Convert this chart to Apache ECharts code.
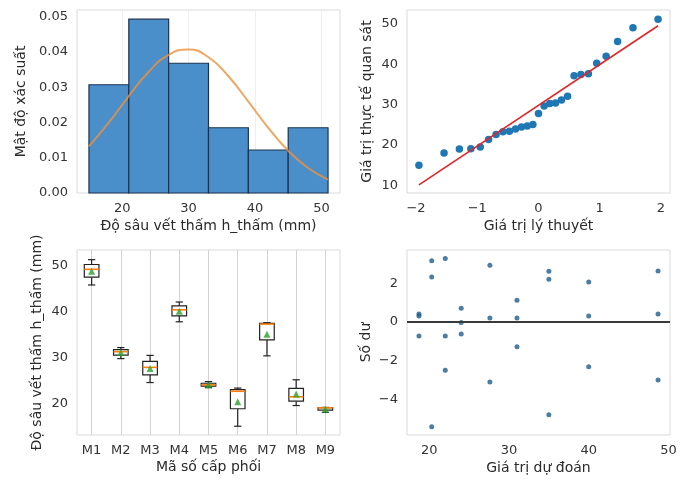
<!DOCTYPE html>
<html>
<head>
<meta charset="utf-8">
<script src="https://cdn.jsdelivr.net/npm/echarts@6/dist/echarts.min.js"></script>
<style>
html,body{margin:0;padding:0;background:#fff;}
#c{width:689px;height:479px;}
</style>
</head>
<body>
<div id="c"></div>
<script>
// ---- Histogram (panel 1) ----
const histEdges = [15, 21, 27, 33, 39, 45, 51];
const histDensity = [0.0307, 0.0493, 0.0368, 0.0185, 0.0122, 0.0185];
const curveX = [15, 18, 21, 24, 27, 30, 33, 36, 39, 42, 45, 48, 51];
const curveY = [0.0132, 0.0200, 0.0275, 0.0344, 0.0392, 0.0407, 0.0385, 0.0331, 0.0259, 0.0185, 0.0120, 0.0071, 0.0038];
const histXTicks = [20, 30, 40, 50];
const histYTicks = [0, 0.01, 0.02, 0.03, 0.04, 0.05];

// ---- Q-Q plot (panel 2) ----
const qqTheo = [-1.953, -1.543, -1.292, -1.105, -0.951, -0.815, -0.693, -0.581, -0.475, -0.375, -0.278, -0.184, -0.092, 0,
                0.092, 0.184, 0.278, 0.375, 0.475, 0.581, 0.693, 0.815, 0.951, 1.105, 1.292, 1.543, 1.953];
const qqObs = [15.0, 18.0, 19.0, 19.1, 19.5, 21.4, 22.6, 23.3, 23.4, 24.0, 24.5, 24.7, 25.1, 27.8,
               29.7, 30.3, 30.4, 31.2, 32.1, 37.2, 37.5, 37.7, 40.3, 42.0, 45.7, 49.1, 51.2];
const qqLineX = [-1.953, 1.953];
const qqLineY = [10.1, 49.6];
const qqXTicks = [-2, -1, 0, 1, 2];
const qqYTicks = [10, 20, 30, 40, 50];

// ---- Box plot (panel 3) ----
const mixes = ['M1', 'M2', 'M3', 'M4', 'M5', 'M6', 'M7', 'M8', 'M9'];
const boxMin = [45.7, 29.7, 24.5, 37.7, 23.4, 15.0, 30.3, 19.5, 18.0];
const boxQ1  = [47.4, 30.45, 26.15, 39.0, 23.7, 18.8, 33.75, 20.45, 18.5];
const boxMed = [49.1, 31.2, 27.8, 40.3, 24.0, 22.6, 37.2, 21.4, 19.0];
const boxQ3  = [50.15, 31.65, 29.1, 41.15, 24.35, 22.95, 37.35, 23.25, 19.05];
const boxMax = [51.2, 32.1, 30.4, 42.0, 24.7, 23.3, 37.5, 25.1, 19.1];
const boxMean = [48.67, 31.0, 27.57, 40.0, 24.03, 20.3, 35.0, 22.0, 18.7];
const boxYTicks = [20, 30, 40, 50];

// ---- Residuals (panel 4) ----
const residPred = [18.7, 18.7, 18.7, 20.3, 20.3, 20.3, 22.0, 22.0, 22.0, 24.0, 24.0, 24.0, 27.6, 27.6, 27.6,
                   31.0, 31.0, 31.0, 35.0, 35.0, 35.0, 40.0, 40.0, 40.0, 48.7, 48.7, 48.7];
const residVal  = [0.41, 0.31, -0.72, 3.16, 2.33, -5.41, 3.28, -0.72, -2.5, 0.71, -0.03, -0.62, 2.93, 0.21, -3.1,
                   1.12, 0.21, -1.28, 2.62, 2.21, -4.79, 2.07, 0.31, -2.31, 2.64, 0.41, -3.0];
const residXTicks = [20, 30, 40, 50];
const residYTicks = [-4, -2, 0, 2];

const FONT = 'DejaVu Sans';
const TXT = '#333333';
const minus = v => String(v).replace('-', '\u2212');

function valAxis(gridIndex, min, max, ticks, fmt, name, gap, opts) {
  return Object.assign({
    type: 'value', gridIndex, min, max,
    name, nameLocation: 'middle', nameGap: gap,
    nameTextStyle: {fontSize: 14, color: '#2a2a2a', fontFamily: FONT},
    axisLine: {show: false},
    axisTick: {show: false, customValues: ticks},
    axisLabel: {customValues: ticks, formatter: fmt, fontSize: 13, color: TXT, margin: 9, fontFamily: FONT},
    splitLine: {show: false}
  }, opts || {});
}

const gridBase = {show: true, borderColor: '#dadada', borderWidth: 1, backgroundColor: '#ffffff', containLabel: false};

const option = {
  animation: false,
  backgroundColor: '#ffffff',
  textStyle: {fontFamily: FONT},
  grid: [
    Object.assign({left: 77, top: 10, width: 263, height: 183}, gridBase),
    Object.assign({left: 407, top: 10, width: 263, height: 183}, gridBase),
    Object.assign({left: 77, top: 250, width: 263, height: 185}, gridBase),
    Object.assign({left: 407, top: 250, width: 263, height: 185}, gridBase)
  ],
  xAxis: [
    valAxis(0, 13.2, 52.8, histXTicks, v => String(v), 'Độ sâu vết thấm h_thấm (mm)', 26,
      {splitLine: {show: true, lineStyle: {color: '#efefef', width: 1}}}),
    valAxis(1, -2.148, 2.148, qqXTicks, v => minus(v), 'Giá trị lý thuyết', 26),
    valAxis(2, 0.5, 9.5, [1, 2, 3, 4, 5, 6, 7, 8, 9], v => mixes[Math.round(v) - 1] || '', 'Mã số cấp phối', 25,
      {splitLine: {show: true, lineStyle: {color: '#d2d2d2', width: 1}}}),
    valAxis(3, 17.2, 50.2, residXTicks, v => String(v), 'Giá trị dự đoán', 26)
  ],
  yAxis: [
    valAxis(0, 0, 0.0519, histYTicks, v => v.toFixed(2), 'Mật độ xác suất', 49),
    valAxis(1, 8.1, 53.5, qqYTicks, v => String(v), 'Giá trị thực tế quan sát', 33),
    valAxis(2, 13.1, 53.3, boxYTicks, v => String(v), 'Độ sâu vết thấm h_thấm (mm)', 33),
    valAxis(3, -5.84, 3.72, residYTicks, v => minus(v), 'Số dư', 34)
  ],
  series: [
    {
      type: 'custom', xAxisIndex: 0, yAxisIndex: 0, z: 2,
      data: histDensity.map((d, i) => [histEdges[i], histEdges[i + 1], d]),
      encode: {x: [0, 1], y: 2},
      renderItem: function (params, api) {
        const p0 = api.coord([api.value(0), api.value(2)]);
        const p1 = api.coord([api.value(1), 0]);
        return {
          type: 'rect',
          shape: {x: p0[0], y: p0[1], width: p1[0] - p0[0], height: p1[1] - p0[1]},
          style: {fill: '#4a8fca', stroke: '#1c3350', lineWidth: 1.2}
        };
      }
    },
    {
      type: 'line', xAxisIndex: 0, yAxisIndex: 0, z: 3, smooth: true, showSymbol: false,
      data: curveX.map((x, i) => [x, curveY[i]]),
      lineStyle: {color: 'rgba(235,145,60,0.8)', width: 2}
    },
    {
      type: 'scatter', xAxisIndex: 1, yAxisIndex: 1, z: 2,
      data: qqTheo.map((x, i) => [x, qqObs[i]]),
      symbolSize: 7.5,
      itemStyle: {color: '#1f77b4', opacity: 1}
    },
    {
      type: 'line', xAxisIndex: 1, yAxisIndex: 1, z: 3, showSymbol: false,
      data: qqLineX.map((x, i) => [x, qqLineY[i]]),
      lineStyle: {color: '#e0262a', width: 1.6}
    },
    {
      type: 'custom', xAxisIndex: 2, yAxisIndex: 2, z: 3,
      data: mixes.map((m, i) => [i + 1, boxMin[i], boxQ1[i], boxMed[i], boxQ3[i], boxMax[i]]),
      encode: {x: 0, y: [1, 2, 3, 4, 5]},
      renderItem: function (params, api) {
        const x = api.value(0);
        const bw = api.size([1, 0])[0] * 0.5;
        const c = v => api.coord([x, api.value(v)]);
        const pMin = c(1), pQ1 = c(2), pMed = c(3), pQ3 = c(4), pMax = c(5);
        const cx = pMin[0];
        const ln = (x1, y1, x2, y2, col, w) => ({type: 'line', shape: {x1, y1, x2, y2}, style: {stroke: col, lineWidth: w}});
        return {
          type: 'group',
          children: [
            ln(cx, pQ3[1], cx, pMax[1], '#222', 1.2),
            ln(cx, pQ1[1], cx, pMin[1], '#222', 1.2),
            ln(cx - bw / 4, pMax[1], cx + bw / 4, pMax[1], '#222', 1.2),
            ln(cx - bw / 4, pMin[1], cx + bw / 4, pMin[1], '#222', 1.2),
            {type: 'rect', shape: {x: cx - bw / 2, y: pQ3[1], width: bw, height: pQ1[1] - pQ3[1]},
             style: {fill: '#ffffff', stroke: '#222', lineWidth: 1.2}},
            ln(cx - bw / 2, pMed[1], cx + bw / 2, pMed[1], '#ff7f0e', 1.6)
          ]
        };
      }
    },
    {
      type: 'scatter', xAxisIndex: 2, yAxisIndex: 2, z: 4,
      data: boxMean.map((v, i) => [i + 1, v]),
      symbol: 'triangle', symbolSize: 7,
      itemStyle: {color: '#2ca02c'}
    },
    {
      type: 'scatter', xAxisIndex: 3, yAxisIndex: 3, z: 3,
      data: residPred.map((x, i) => [x, residVal[i]]),
      symbolSize: 5,
      itemStyle: {color: '#1f5d8c'},
      markLine: {
        silent: true, symbol: 'none', label: {show: false},
        lineStyle: {color: '#3a3a3a', width: 2, type: 'solid'},
        data: [{yAxis: 0}]
      }
    }
  ]
};

const chart = echarts.init(document.getElementById('c'), null, {renderer: 'canvas'});
chart.setOption(option);
</script>
</body>
</html>
